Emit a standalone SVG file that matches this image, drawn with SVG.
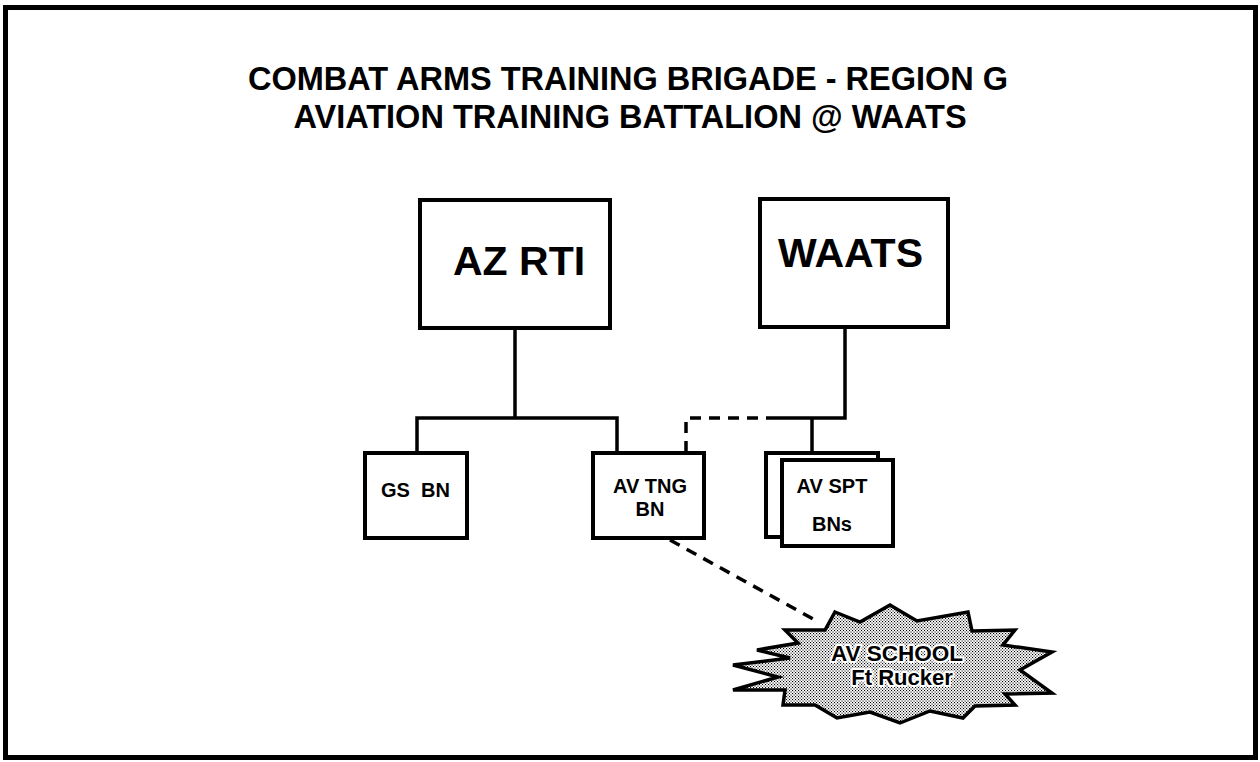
<svg xmlns="http://www.w3.org/2000/svg" width="1260" height="762" viewBox="0 0 1260 762">
<defs>
<pattern id="stip" width="3" height="3" patternUnits="userSpaceOnUse">
<rect width="3" height="3" fill="#ffffff"/>
<rect x="0" y="0" width="1.1" height="1.1" fill="#000"/>
<rect x="1.5" y="1.5" width="1.1" height="1.1" fill="#000"/>
</pattern>
</defs>
<style>
.t{font-family:"Liberation Sans",Arial,sans-serif;font-weight:bold;fill:#000}
.box{fill:#fff;stroke:#000;stroke-width:4}
.ln{fill:none;stroke:#000;stroke-width:3.5}
.dash{fill:none;stroke:#000;stroke-width:3.5;stroke-dasharray:11,8}
.halo{stroke:#fff;stroke-width:4;paint-order:stroke;stroke-linejoin:round}
</style>
<rect x="0" y="0" width="1260" height="762" fill="#fff"/>
<rect x="5.5" y="7.5" width="1250" height="750" fill="none" stroke="#000" stroke-width="5"/>
<g id="title">
<text class="t" x="628" y="90" font-size="32.5" text-anchor="middle">COMBAT ARMS TRAINING BRIGADE - REGION G</text>
<text class="t" x="630" y="128" font-size="32.5" text-anchor="middle">AVIATION TRAINING BATTALION @ WAATS</text>
</g>
<g id="connectors">
<polyline class="ln" points="515,328 515,418"/>
<polyline class="ln" points="417,453 417,418 617,418 617,453"/>
<polyline class="ln" points="845,327 845,418 777,418"/>
<polyline class="ln" points="812,418 812,454"/>
<polyline class="dash" points="777,418 686,418 686,453"/>
<line class="dash" x1="670" y1="540" x2="815" y2="620"/>
</g>
<g id="az-rti">
<rect class="box" x="420" y="200" width="190" height="128"/>
<text class="t" x="453" y="275" font-size="41">AZ RTI</text>
</g>
<g id="waats">
<rect class="box" x="760" y="199" width="188" height="128"/>
<text class="t" x="778" y="267" font-size="41">WAATS</text>
</g>
<g id="gs-bn">
<rect class="box" x="365" y="453" width="102" height="85"/>
<text class="t" x="381" y="497" font-size="20" xml:space="preserve">GS  BN</text>
</g>
<g id="av-tng-bn">
<rect class="box" x="593" y="453" width="111" height="85"/>
<text class="t" x="650" y="493" font-size="20" text-anchor="middle">AV TNG</text>
<text class="t" x="650" y="516" font-size="20" text-anchor="middle">BN</text>
</g>
<g id="av-spt-bns">
<rect class="box" x="766" y="453" width="112" height="84"/>
<rect class="box" x="782" y="460" width="111" height="86"/>
<text class="t" x="832" y="493" font-size="20" text-anchor="middle">AV SPT</text>
<text class="t" x="832" y="531" font-size="20" text-anchor="middle">BNs</text>
</g>
<g id="av-school">
<polygon fill="url(#stip)" stroke="#000" stroke-width="3.5" stroke-linejoin="miter" points="835,612 860,622 890,605 917,621 968,612 972,631 1015,630 1003,645 1052,652 1020,670 1052,693 1005,694 1015,705 975,706 963,718 930,711 900,723 870,712 837,718 815,705 783,705 785,690 733,690 778,677 733,665 790,658 757,650 798,643 785,630 825,630"/>
<text class="t halo" x="897" y="661" font-size="22.5" text-anchor="middle">AV SCHOOL</text>
<text class="t halo" x="902" y="685" font-size="22" text-anchor="middle">Ft Rucker</text>
</g>
</svg>
